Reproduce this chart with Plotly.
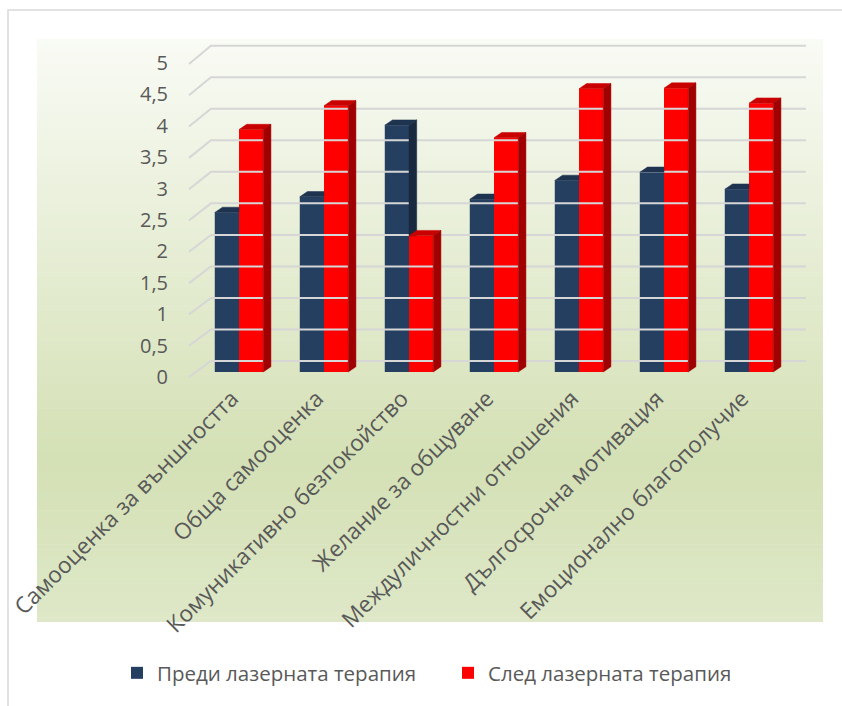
import plotly.graph_objects as go

# ---- data -------------------------------------------------------------
categories = [
    "Самооценка за външността",
    "Обща самооценка",
    "Комуникативно безпокойство",
    "Желание за общуване",
    "Междуличностни отношения",
    "Дългосрочна мотивация",
    "Емоционално благополучие",
]
before_name = "Преди лазерната терапия"
after_name = "След лазерната терапия"
before_values = [2.54, 2.79, 3.93, 2.75, 3.05, 3.18, 2.91]
after_values = [3.86, 4.24, 2.17, 3.73, 4.51, 4.52, 4.28]
y_ticks = [0, 0.5, 1, 1.5, 2, 2.5, 3, 3.5, 4, 4.5, 5]
y_tick_text = ["0", "0,5", "1", "1,5", "2", "2,5", "3", "3,5", "4", "4,5", "5"]

# ---- geometry / style --------------------------------------------------
W, H = 842, 706
ML, MR, MT, MB = 180, 32, 40, 326          # plot-area margins (px)
PX_PER_X = 85.0                             # px per category step
PX_PER_Y = 62.8                             # px per value unit
X0_PX = 239.0                               # px of first category centre
Y0_PX = 372.0                               # px of value 0 (bar plane)

x_range = [(ML - X0_PX) / PX_PER_X, (W - MR - X0_PX) / PX_PER_X]
y_range = [(Y0_PX - (H - MB)) / PX_PER_Y, (Y0_PX - MT) / PX_PER_Y]

BAR_W = 0.285            # width of one column (x units)
DEPTH_X = 7.7 / PX_PER_X  # oblique depth of a column
DEPTH_Y = 5.3 / PX_PER_Y

# back wall and front plane offsets relative to the bar plane
BACK_DX = -0.33, 6.67                     # back-wall x extent
BACK_DY = 11.0 / PX_PER_Y
FRONT_X = (189 - X0_PX) / PX_PER_X
FRONT_DY = -5.0 / PX_PER_Y

BLUE, BLUE_TOP, BLUE_SIDE = "#253f60", "#1e3350", "#19293f"
RED, RED_TOP, RED_SIDE = "#ff0000", "#c80000", "#a00000"
GRID = "#d6d6d6"
TEXT = "#595959"
FONT = "Open Sans"


def px_to_paper_x(px):
    return (px - ML) / (W - ML - MR)


def px_to_paper_y(py):
    return ((H - MB) - py) / (H - MT - MB)


fig = go.Figure()

# ---- wall grid: back-wall horizontals and left-wall diagonals ---------
gx, gy = [], []
for t in y_ticks:
    yb = t * 1.004 + BACK_DY
    yf = t * 0.997 + FRONT_DY
    gx += [FRONT_X, BACK_DX[0], BACK_DX[1], None]
    gy += [yf, yb, yb, None]
fig.add_trace(go.Scatter(x=gx, y=gy, mode="lines", hoverinfo="skip",
                         line=dict(color=GRID, width=2), showlegend=False))

# ---- front faces of the columns ----------------------------------------
x_idx = list(range(len(categories)))
fig.add_trace(go.Bar(x=x_idx, y=before_values, name=before_name,
                     width=BAR_W, offset=-BAR_W, marker_color=BLUE,
                     marker_line_width=0))
fig.add_trace(go.Bar(x=x_idx, y=after_values, name=after_name,
                     width=BAR_W, offset=0, marker_color=RED,
                     marker_line_width=0))


def poly(xs, ys, color):
    fig.add_trace(go.Scatter(x=xs + [xs[0]], y=ys + [ys[0]], mode="lines",
                             fill="toself", fillcolor=color,
                             line=dict(color=color, width=0.5),
                             hoverinfo="skip", showlegend=False))


# ---- top and side faces (oblique depth) -------------------------------
for i, (b, a) in enumerate(zip(before_values, after_values)):
    # "before" column: left of the category centre
    xl, xr = i - BAR_W, i
    if a >= b + DEPTH_Y:
        # right part of the top face is hidden by the "after" column
        poly([xl, xr, xr, xl + DEPTH_X], [b, b, b + DEPTH_Y, b + DEPTH_Y],
             BLUE_TOP)
    else:
        poly([xl, xr, xr + DEPTH_X, xl + DEPTH_X],
             [b, b, b + DEPTH_Y, b + DEPTH_Y], BLUE_TOP)
        lo = max(a, 0)
        poly([xr, xr + DEPTH_X, xr + DEPTH_X, xr],
             [lo, lo, b + DEPTH_Y, b], BLUE_SIDE)
    # "after" column: right of the category centre
    xl, xr = i, i + BAR_W
    poly([xl, xr, xr + DEPTH_X, xl + DEPTH_X],
         [a, a, a + DEPTH_Y, a + DEPTH_Y], RED_TOP)
    poly([xr, xr + DEPTH_X, xr + DEPTH_X, xr],
         [0, DEPTH_Y, a + DEPTH_Y, a], RED_SIDE)

# ---- background: vertical gradient of the plot area ------------------
stops = [(0.0, (249, 251, 245)), (0.72, (212, 224, 181)), (1.0, (222, 232, 200))]


def grad(f):
    for (f0, c0), (f1, c1) in zip(stops[:-1], stops[1:]):
        if f <= f1:
            k = (f - f0) / (f1 - f0)
            return "rgb(%d,%d,%d)" % tuple(round(c0[j] + (c1[j] - c0[j]) * k)
                                           for j in range(3))
    return "rgb(%d,%d,%d)" % stops[-1][1]


shapes = []
top_px, bot_px, left_px, right_px = 39.0, 622.0, 37.0, 823.0
n = 120
for k in range(n):
    y1 = top_px + (bot_px - top_px) * k / n
    y2 = top_px + (bot_px - top_px) * (k + 1) / n + 0.6
    shapes.append(dict(type="rect", xref="paper", yref="paper", layer="below",
                       x0=px_to_paper_x(left_px), x1=px_to_paper_x(right_px),
                       y0=px_to_paper_y(min(y2, bot_px)), y1=px_to_paper_y(y1),
                       line_width=0, fillcolor=grad((k + 0.5) / n)))
# chart-area border
shapes.append(dict(type="rect", xref="paper", yref="paper", layer="below",
                   x0=px_to_paper_x(8), x1=px_to_paper_x(860),
                   y0=px_to_paper_y(720), y1=px_to_paper_y(10),
                   line=dict(color="#d9d9d9", width=1.5),
                   fillcolor="rgba(0,0,0,0)"))

fig.update_layout(
    width=W, height=H,
    margin=dict(l=ML, r=MR, t=MT, b=MB, pad=0, autoexpand=False),
    paper_bgcolor="white",
    plot_bgcolor="rgba(0,0,0,0)",
    barmode="overlay",
    shapes=shapes,
    font=dict(family=FONT, color=TEXT, size=20),
    showlegend=True,
    legend=dict(orientation="h", x=px_to_paper_x(117), xanchor="left",
                y=px_to_paper_y(673), yanchor="middle",
                entrywidth=286, font=dict(size=20.5, color=TEXT),
                bgcolor="rgba(0,0,0,0)", traceorder="normal"),
    xaxis=dict(range=x_range, tickvals=x_idx, ticktext=categories,
               tickangle=-45, showgrid=False, zeroline=False, showline=False,
               ticks="", ticklabelshift=-7, automargin=False,
               tickfont=dict(size=22.5, color=TEXT), fixedrange=True),
    yaxis=dict(range=y_range, tickvals=y_ticks, ticktext=y_tick_text,
               showgrid=False, zeroline=False, showline=False, ticks="",
               ticklabelshift=5, ticklabelstandoff=11, automargin=False,
               tickfont=dict(size=20, color=TEXT), fixedrange=True),
)

fig.write_html("out.html")
